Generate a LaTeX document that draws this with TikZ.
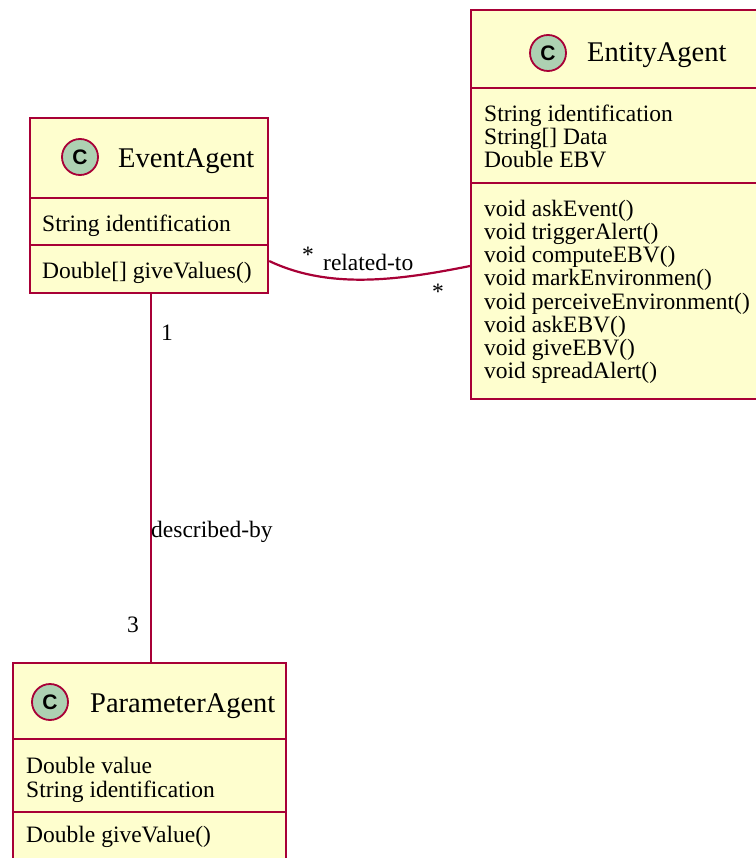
\documentclass[tikz,border=0pt]{standalone}
\usepackage{fontspec}
\setmainfont{Liberation Serif}
\newfontfamily\iconfont{Liberation Sans}
\definecolor{umlborder}{HTML}{A80036}
\definecolor{umlfill}{HTML}{FEFECE}
\definecolor{umlicon}{HTML}{ADD1B2}
\definecolor{umlline}{HTML}{A80036}

\begin{document}
\begin{tikzpicture}[x=1pt,y=-1pt,
  classbox/.style={draw=umlborder, fill=umlfill, line width=2.2pt, rectangle, inner sep=0pt, anchor=north west},
  sepline/.style={draw=umlborder, line width=2.2pt},
  icon/.style={circle, draw=umlborder, fill=umlicon, line width=1.8pt, minimum size=36pt, inner sep=0pt,
    font=\iconfont\bfseries\fontsize{21}{21}\selectfont},
  title/.style={anchor=base west, inner sep=0pt, font=\fontsize{28.5}{28.5}\selectfont},
  member/.style={anchor=base west, inner sep=0pt, font=\fontsize{23.5}{23.5}\selectfont},
  assoc/.style={draw=umlline, line width=2.2pt},
  lbl/.style={anchor=base west, inner sep=0pt, font=\fontsize{23.5}{23.5}\selectfont},
  mult/.style={inner sep=0pt, font=\fontsize{23.5}{23.5}\selectfont}
]
\useasboundingbox (0,0) rectangle (755,858);

% ---------- EventAgent ----------
\node[classbox, minimum width=238pt, minimum height=175pt] (event) at (29,117) {};
\draw[sepline] ([yshift=-81pt]event.north west) -- ([yshift=-81pt]event.north east);
\draw[sepline] ([yshift=-128pt]event.north west) -- ([yshift=-128pt]event.north east);
\node[icon] (eventicon) at (80,157) {C};
\node[title] (eventtitle) at (118,168) {EventAgent};
\node[member] (eventa1) at (42,232) {String identification};
\node[member] (eventm1) at (42,278) {Double[] giveValues()};

% ---------- EntityAgent ----------
\node[classbox, minimum width=292pt, minimum height=389pt] (entity) at (470,9) {};
\draw[sepline] ([yshift=-79pt]entity.north west) -- ([yshift=-79pt]entity.north east);
\draw[sepline] ([yshift=-174pt]entity.north west) -- ([yshift=-174pt]entity.north east);
\node[icon] (entityicon) at (548,53) {C};
\node[title] (entitytitle) at (587,62) {EntityAgent};
\node[member] (entitya1) at (484,122) {String identification};
\node[member] (entitya2) at (484,145) {String[] Data};
\node[member] (entitya3) at (484,168) {Double EBV};
\foreach \txt [count=\k from 0] in {void askEvent(), void triggerAlert(), void computeEBV(),
    void markEnvironmen(), void perceiveEnvironment(), void askEBV(), void giveEBV(), void spreadAlert()}
  \node[member] (entitym\k) at (484,217+23*\k) {\txt};

% ---------- ParameterAgent ----------
\node[classbox, minimum width=273pt, minimum height=204pt] (param) at (12,662) {};
\draw[sepline] ([yshift=-77pt]param.north west) -- ([yshift=-77pt]param.north east);
\draw[sepline] ([yshift=-150pt]param.north west) -- ([yshift=-150pt]param.north east);
\node[icon] (paramicon) at (50,702) {C};
\node[title] (paramtitle) at (90,712) {ParameterAgent};
\node[member] (parama1) at (26,773) {Double value};
\node[member] (parama2) at (26,797) {String identification};
\node[member] (paramm1) at (26,842) {Double giveValue()};

% ---------- associations ----------
\draw[assoc] ([xshift=2pt]event.south) -- ([xshift=2pt]event.south |- param.north);
\draw[assoc] ([yshift=-144pt]event.north east)
  .. controls (330,290) and (400,280) .. ([yshift=-257pt]entity.north west);

\node[lbl] (one) at (161,340) {1};
\node[lbl] (describedby) at (151,537) {described-by};
\node[lbl] (three) at (127,632) {3};
\node[mult] (star1) at (308,255) {*};
\node[lbl] (relatedto) at (323,270) {related-to};
\node[mult] (star2) at (438,292) {*};
\end{tikzpicture}
\end{document}
